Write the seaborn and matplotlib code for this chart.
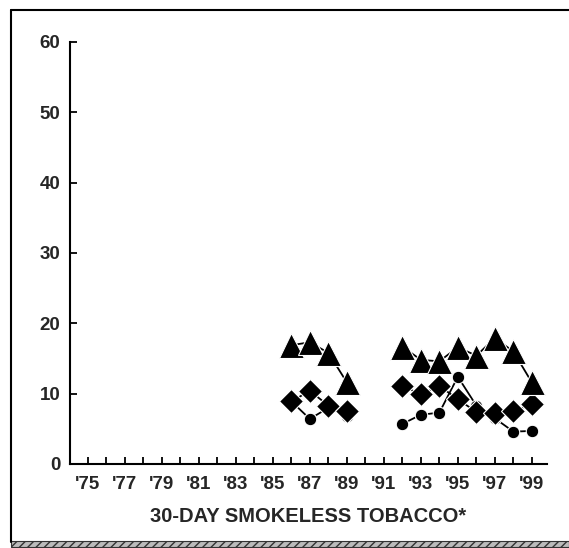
import numpy as np
import pandas as pd
import matplotlib
matplotlib.use("Agg")
import matplotlib.pyplot as plt
import matplotlib.patches as mpatches
from matplotlib.lines import Line2D
import seaborn as sns

# datos (porcentaje, 30 dias)
years_a = [1986, 1987, 1988, 1989]
years_b = [1992, 1993, 1994, 1995, 1996, 1997, 1998, 1999]

tri_a = [16.9, 17.3, 15.8, 11.6]
tri_b = [16.7, 14.8, 14.6, 16.6, 15.4, 17.9, 16.0, 11.6]

dia_a = [8.9, 10.4, 8.3, 7.5]
dia_b = [11.1, 9.9, 11.1, 9.2, 7.4, 7.2, 7.5, 8.5]

cir_a = [8.9, 6.4, 8.0, 6.8]
cir_b = [5.7, 7.0, 7.3, 12.4, 8.3, 6.5, 4.6, 4.7]

year_ticks = list(range(1975, 2000))
year_labels = ["'%02d" % (y % 100) if y % 2 == 1 else "" for y in year_ticks]
y_ticks = [0, 10, 20, 30, 40, 50, 60]
x_title = "30-DAY SMOKELESS TOBACCO*"


def tabla(va, vb):
    return pd.DataFrame({
        "year": years_a + years_b,
        "value": va + vb,
        "seg": ["a"] * len(years_a) + ["b"] * len(years_b),
    })


sns.set_style("white")
plt.rcParams['font.family'] = ['Liberation Sans', 'DejaVu Sans']
plt.rcParams['font.weight'] = 'bold'

fig = plt.figure(figsize=(5.69, 5.48), dpi=100)
ax = fig.add_axes([0.123, 0.1533, 0.838, 0.7701])

comun = dict(x="year", y="value", units="seg", estimator=None, color="black",
             linewidth=1.3, markeredgecolor="white", markeredgewidth=0.8, ax=ax)
sns.lineplot(data=tabla(cir_a, cir_b), marker="o", markersize=9, **comun)
sns.lineplot(data=tabla(dia_a, dia_b), marker="D", markersize=12, **comun)
sns.lineplot(data=tabla(tri_a, tri_b), marker="^", markersize=18, **comun)

ax.set_xlim(1974.03, 1999.81)
ax.set_ylim(0, 60)
ax.set_xticks(year_ticks)
ax.set_xticklabels(year_labels)
ax.set_yticks(y_ticks)
ax.tick_params(axis="both", direction="in", length=5, width=1.3, color="black",
               labelsize=13.5)
ax.tick_params(axis="x", bottom=True, pad=9)
ax.tick_params(axis="y", left=True, pad=7)
ax.set_xlabel(x_title, fontsize=14.5, fontweight="bold", labelpad=10)
ax.set_ylabel("")
for lado in ["top", "right"]:
    ax.spines[lado].set_visible(False)
for lado in ["left", "bottom"]:
    ax.spines[lado].set_color("black")
    ax.spines[lado].set_linewidth(1.5)

# marco exterior
W, H = 569, 548
fig.add_artist(Line2D([11 / W, 11 / W], [1 - 10 / H, 1 - 542 / H],
                      transform=fig.transFigure, color="black", lw=1.5))
fig.add_artist(Line2D([11 / W, 1.0], [1 - 10 / H, 1 - 10 / H],
                      transform=fig.transFigure, color="black", lw=1.5))
fig.add_artist(mpatches.Rectangle((11 / W, 1 - 547 / H), 1 - 11 / W, 6 / H,
                                  transform=fig.transFigure, facecolor="#bbbbbb",
                                  edgecolor="#333333", hatch="////", lw=0.8))

plt.savefig("out.png", dpi=100)
